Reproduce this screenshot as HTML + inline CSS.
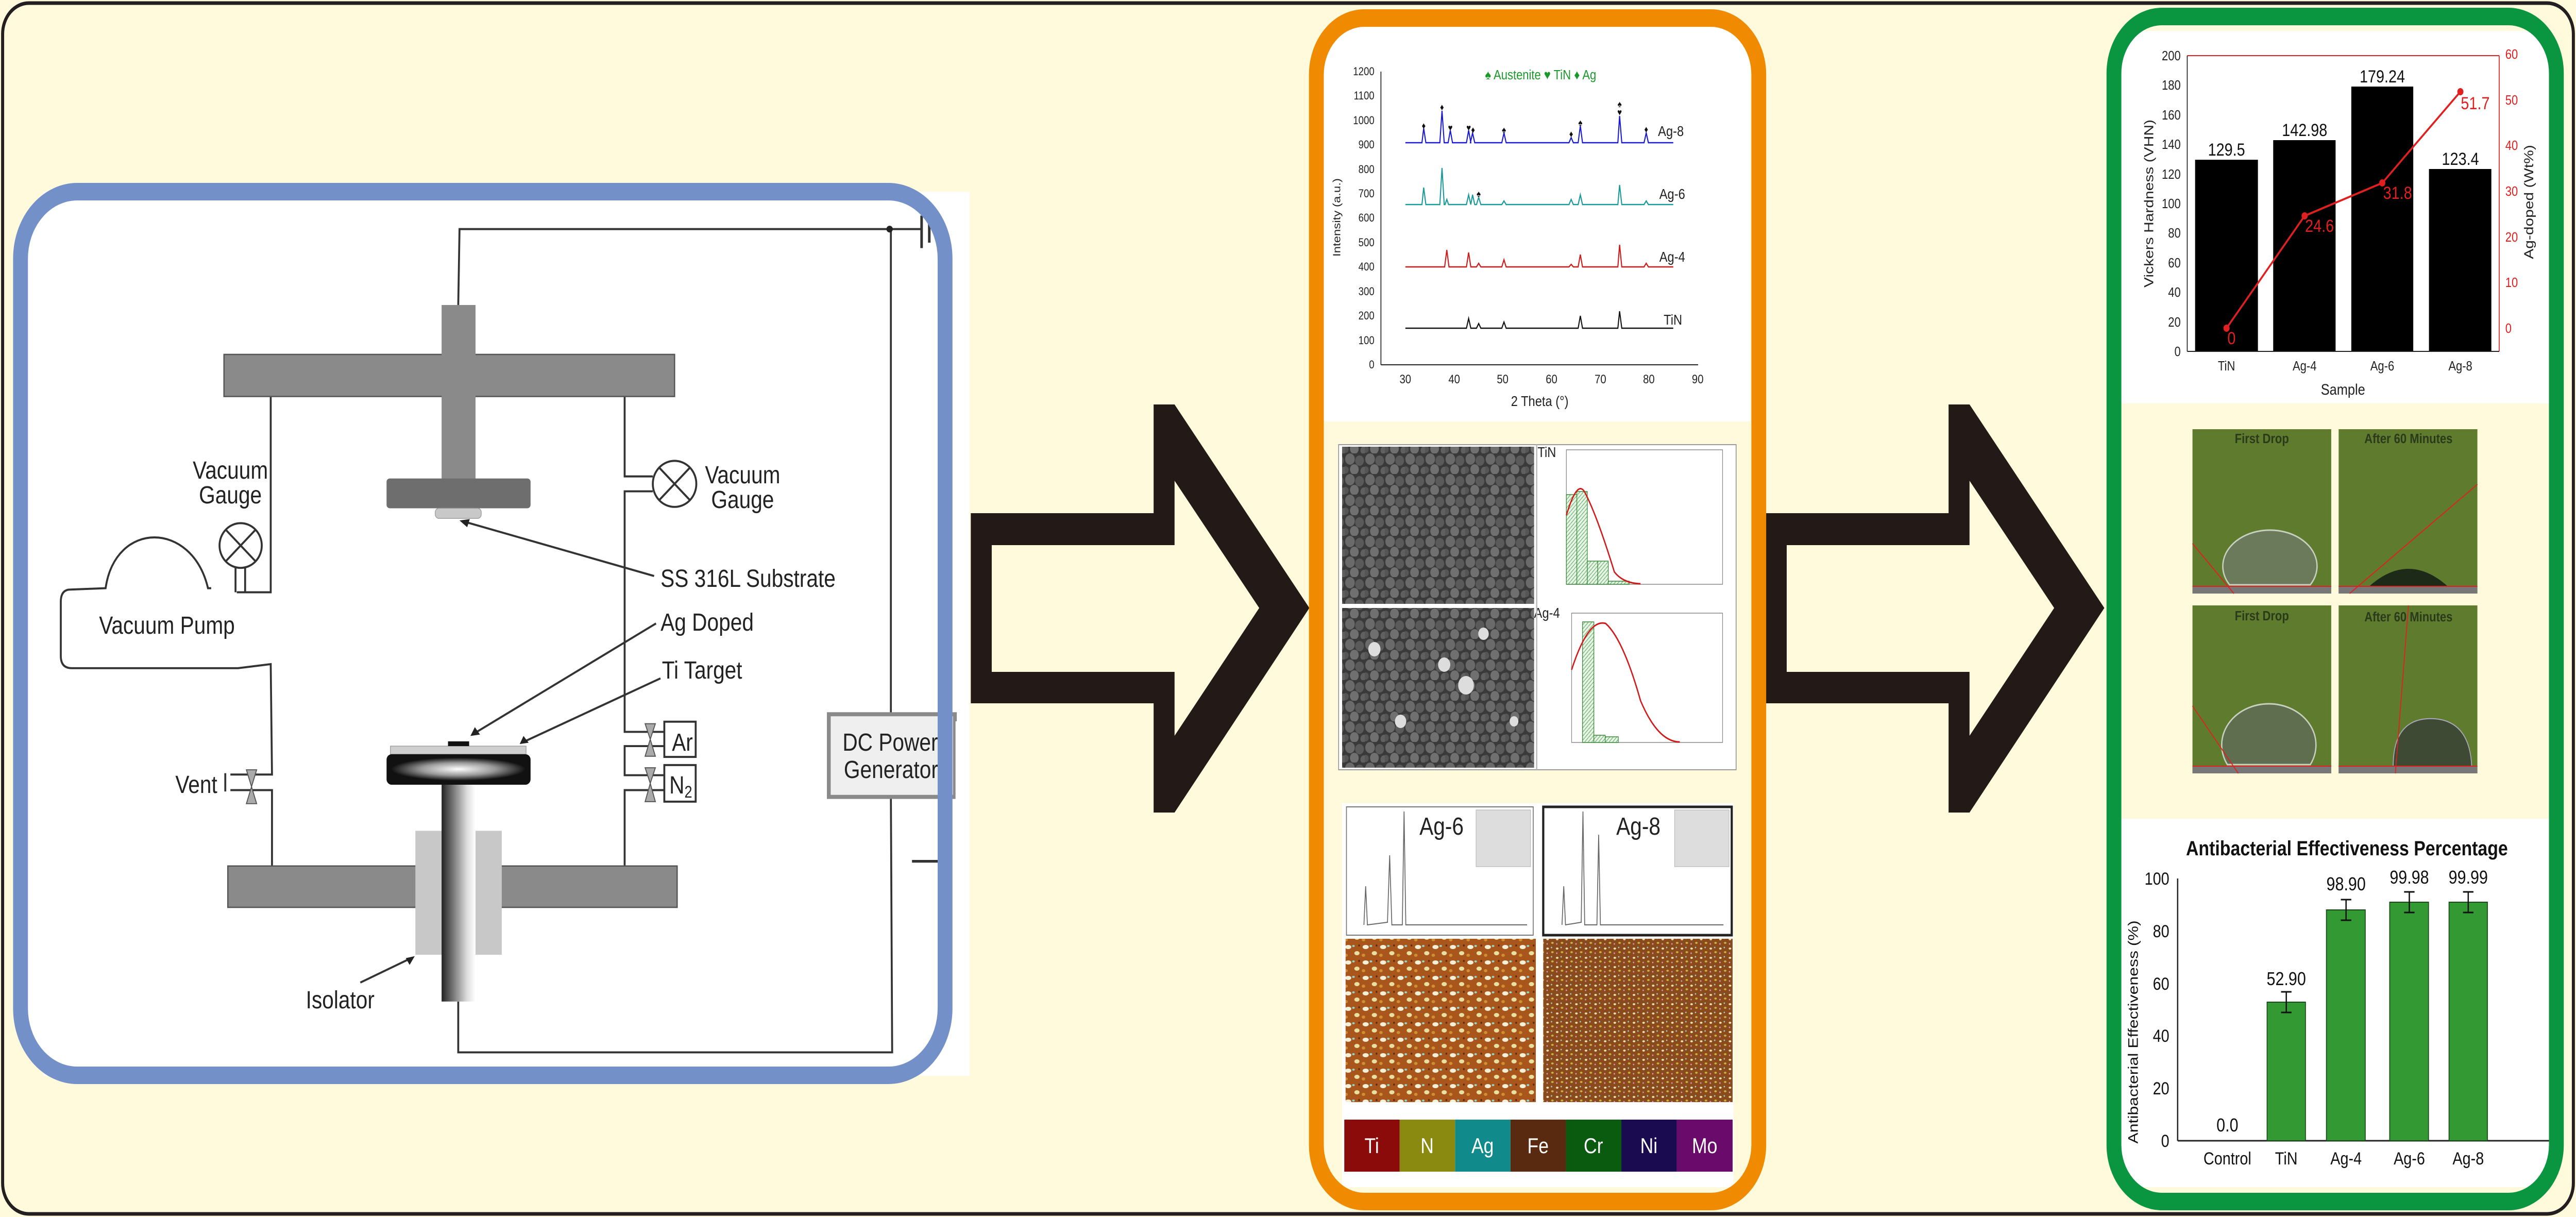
<!DOCTYPE html>
<html><head><meta charset="utf-8"><style>
html,body{margin:0;padding:0;background:#fffadc;width:100%;height:100%;overflow:hidden;}
svg.main{display:block;width:100vw;height:100vh;}
text{font-family:"Liberation Sans",sans-serif;}
</style></head><body>
<svg class="main" viewBox="0 0 5904 2362" preserveAspectRatio="none" xmlns="http://www.w3.org/2000/svg">
<defs>
<linearGradient id="shaft" x1="0" x2="1" y1="0" y2="0"><stop offset="0" stop-color="#222"/><stop offset="0.75" stop-color="#ddd"/><stop offset="1" stop-color="#fff"/></linearGradient>
<radialGradient id="disk" cx="0.5" cy="0.5" r="0.5"><stop offset="0" stop-color="#fff"/><stop offset="0.55" stop-color="#999"/><stop offset="1" stop-color="#111"/></radialGradient>
<pattern id="sem" width="46" height="40" patternUnits="userSpaceOnUse"><rect width="46" height="40" fill="#3a3a3a"/><circle cx="12" cy="11" r="11" fill="#6a6a6a"/><circle cx="34" cy="14" r="10" fill="#5a5a5a"/><circle cx="22" cy="31" r="10" fill="#707070"/><circle cx="44" cy="34" r="8" fill="#606060"/><circle cx="2" cy="32" r="7" fill="#555"/></pattern>
<pattern id="map6" width="40" height="30" patternUnits="userSpaceOnUse"><rect width="40" height="30" fill="#a8561c"/><ellipse cx="10" cy="8" rx="7" ry="4" fill="#f4f0d8"/><ellipse cx="30" cy="20" rx="6" ry="4" fill="#e8e0a0"/><ellipse cx="22" cy="6" rx="3" ry="2" fill="#8fd8d0"/><ellipse cx="5" cy="24" rx="4" ry="3" fill="#d09030"/><circle cx="35" cy="5" r="2" fill="#5a2a10"/></pattern>
<pattern id="map8" width="22" height="18" patternUnits="userSpaceOnUse"><rect width="22" height="18" fill="#8a4a1c"/><ellipse cx="5" cy="5" rx="3" ry="2" fill="#e8e0b0"/><ellipse cx="16" cy="12" rx="3" ry="2" fill="#c8b040"/><circle cx="14" cy="3" r="1.5" fill="#9fd8d0"/><circle cx="4" cy="14" r="1.5" fill="#d8a0d0"/></pattern>
<pattern id="hatch" width="8" height="8" patternUnits="userSpaceOnUse"><rect width="8" height="8" fill="#e6f4e6"/><path d="M0 8 L8 0" stroke="#4a9a4a" stroke-width="1"/></pattern>
</defs>

<rect x="6" y="6" width="5892" height="2350" rx="60" fill="#fffadc" stroke="#231f20" stroke-width="7"/>

<rect x="47" y="372" width="2119" height="1715" rx="130" fill="#fff"/>
<rect x="100" y="372" width="2122" height="1716" fill="#fff"/>
<svg x="0" y="300" width="2300" height="2062" viewBox="0 0 1568 1568" preserveAspectRatio="none" overflow="hidden">
 <g fill="none" stroke="#333" stroke-width="3">
  <polyline points="716,222 718,110 1440,110"/>
  <line x1="1440" y1="90" x2="1440" y2="138" stroke-width="4"/>
  <line x1="1452" y1="98" x2="1452" y2="130" stroke-width="4"/>
  <polyline points="1392,110 1392,826"/>
  <polyline points="1392,948 1394,1325 716,1325 716,1250"/>
  <line x1="1425" y1="1043" x2="1468" y2="1043" stroke-width="4"/>
  <polyline points="423,357 423,646 370,646"/>
  <path d="M330,640 L325,640 C300,540 180,540 165,640 L110,642 Q95,642 95,660 L95,740 Q95,758 112,758 L372,758 L423,752 L425,915 L360,915"/>
  <polyline points="360,938 425,938 425,1050"/>
  <polyline points="352,913 352,940"/>
  <circle cx="376" cy="577" r="33"/>
  <line x1="353" y1="554" x2="399" y2="600"/><line x1="399" y1="554" x2="353" y2="600"/>
  <line x1="368" y1="610" x2="368" y2="646"/><line x1="383" y1="610" x2="383" y2="646"/>
  <polyline points="976,357 976,475 1020,475"/>
  <polyline points="1020,497 976,497 976,852 1038,852"/>
  <polyline points="1038,873 976,873 976,916 1038,916"/>
  <polyline points="1038,938 976,938 976,1050"/>
  <circle cx="1054" cy="486" r="34"/>
  <line x1="1030" y1="462" x2="1078" y2="510"/><line x1="1078" y1="462" x2="1030" y2="510"/>
  <rect x="1038" y="837" width="49" height="52"/>
  <rect x="1038" y="901" width="49" height="54"/>
  <line x1="1022" y1="622" x2="730" y2="543"/>
  <line x1="1025" y1="692" x2="745" y2="852"/>
  <line x1="1032" y1="773" x2="820" y2="866"/>
  <line x1="563" y1="1222" x2="640" y2="1187"/>
 </g>
 <g fill="#222">
  <polygon points="718,540 734,538 730,550"/>
  <polygon points="735,858 742,845 750,856"/>
  <polygon points="812,870 818,858 826,868"/>
  <polygon points="648,1183 640,1196 634,1186"/>
  <circle cx="1390" cy="110" r="5"/>
 </g>
 <g fill="#aaa" stroke="#555" stroke-width="1.5">
  <polygon points="385,908 401,908 393,933"/><polygon points="385,958 401,958 393,933"/>
  <polygon points="1008,840 1024,840 1016,863"/><polygon points="1008,888 1024,888 1016,863"/>
  <polygon points="1008,905 1024,905 1016,928"/><polygon points="1008,955 1024,955 1016,928"/>
 </g>
 <rect x="350" y="295" width="704" height="62" fill="#8a8a8a" stroke="#555" stroke-width="2"/>
 <rect x="690" y="222" width="53" height="258" fill="#8a8a8a"/>
 <rect x="604" y="478" width="225" height="44" rx="5" fill="#6e6e6e"/>
 <rect x="680" y="522" width="72" height="15" rx="6" fill="#c8c8c8" stroke="#999" stroke-width="1"/>
 <rect x="356" y="1050" width="702" height="61" fill="#8a8a8a" stroke="#555" stroke-width="2"/>
 <rect x="649" y="998" width="135" height="183" fill="#c8c8c8"/>
 <rect x="690" y="928" width="53" height="322" fill="url(#shaft)"/>
 <rect x="610" y="873" width="212" height="12" fill="#cfcfcf" stroke="#999" stroke-width="1"/>
 <rect x="700" y="866" width="33" height="7" fill="#111"/>
 <rect x="604" y="885" width="225" height="45" rx="8" fill="#111"/>
 <ellipse cx="716" cy="907" rx="105" ry="17" fill="url(#disk)"/>
 <rect x="1295" y="826" width="197" height="122" fill="#efefef" stroke="#8a8a8a" stroke-width="6"/>
</svg>
<g font-size="48" fill="#222">
 <text x="528" y="929" text-anchor="middle">Vacuum</text>
 <text x="528" y="977" text-anchor="middle">Gauge</text>
 <text x="1702" y="938" text-anchor="middle">Vacuum</text>
 <text x="1702" y="986" text-anchor="middle">Gauge</text>
 <text x="1514" y="1139">SS 316L Substrate</text>
 <text x="1514" y="1224">Ag Doped</text>
 <text x="1517" y="1317">Ti Target</text>
 <text x="227" y="1230">Vacuum Pump</text>
 <text x="402" y="1539">Vent</text>
 <text x="1540" y="1457">Ar</text>
 <text x="1534" y="1540">N<tspan font-size="32" dy="8">2</tspan></text>
 <text x="1931" y="1457">DC Power</text>
 <text x="1934" y="1510">Generator</text>
 <text x="701" y="1957">Isolator</text>
</g>
<rect x="2190" y="1400" width="32" height="160" fill="#fff"/>
<rect x="47" y="372" width="2119" height="1715" rx="130" fill="none" stroke="#7490c8" stroke-width="34"/>

<path fill-rule="evenodd" fill="#231a17" d="M2225,996 L2644,996 L2644,785 L2692,785 L3001,1180 L2692,1577 L2644,1577 L2644,1365 L2225,1365 Z M2273,1058 L2692,1058 L2692,933 L2886,1180 L2692,1428 L2692,1304 L2273,1304 Z"/>
<path fill-rule="evenodd" fill="#231a17" transform="translate(1822,0)" d="M2225,996 L2644,996 L2644,785 L2692,785 L3001,1180 L2692,1577 L2644,1577 L2644,1365 L2225,1365 Z M2273,1058 L2692,1058 L2692,933 L2886,1180 L2692,1428 L2692,1304 L2273,1304 Z"/>

<rect x="3017" y="35" width="1014" height="2297" rx="110" fill="#fffadc"/>
<rect x="3034" y="53" width="978" height="765" fill="#fff"/>
<g stroke="#222" stroke-width="2" fill="none">
 <line x1="3165" y1="139" x2="3165" y2="708"/>
 <line x1="3165" y1="708" x2="3892" y2="708"/>
</g>
<g font-size="22" fill="#222" text-anchor="end">
 <text x="3150" y="715">0</text><text x="3150" y="668">100</text><text x="3150" y="620">200</text><text x="3150" y="573">300</text><text x="3150" y="525">400</text><text x="3150" y="478">500</text><text x="3150" y="430">600</text><text x="3150" y="383">700</text><text x="3150" y="336">800</text><text x="3150" y="288">900</text><text x="3150" y="241">1000</text><text x="3150" y="193">1100</text><text x="3150" y="146">1200</text>
</g>
<g font-size="24" fill="#222" text-anchor="middle">
 <text x="3221" y="744">30</text><text x="3333" y="744">40</text><text x="3444" y="744">50</text><text x="3556" y="744">60</text><text x="3668" y="744">70</text><text x="3779" y="744">80</text><text x="3891" y="744">90</text>
 <text x="3529" y="788" font-size="28">2 Theta (°)</text>
 <text transform="translate(3072,422) rotate(-90)" font-size="24">Intensity (a.u.)</text>
 <text x="3531" y="154" font-size="26" fill="#1a9a2a">♠ Austenite  ♥ TiN  ♦ Ag</text>
</g>
<g fill="none" stroke-width="2.5">
 <path stroke="#1a1ad0" d="M3221,277 L3259,277 L3263,249 L3268,277 L3300,277 L3305,215 L3310,277 L3319,277 L3324,253 L3329,277 L3361,277 L3366,253 L3371,277 L3370,277 L3375,258 L3380,277 L3442,277 L3447,258 L3452,277 L3596,277 L3601,267 L3606,277 L3617,277 L3622,244 L3627,277 L3708,277 L3712,225 L3717,277 L3768,277 L3773,258 L3778,277 L3835,277"/>
 <path stroke="#1a9a9a" d="M3221,397 L3259,397 L3263,364 L3268,397 L3300,397 L3305,326 L3310,397 L3312,397 L3316,387 L3320,397 L3361,397 L3366,378 L3371,397 L3375,378 L3380,397 L3384,397 L3389,383 L3394,397 L3442,397 L3447,390 L3452,397 L3596,397 L3601,387 L3606,397 L3617,397 L3622,378 L3627,397 L3708,397 L3712,359 L3717,397 L3768,397 L3773,390 L3778,397 L3835,397"/>
 <path stroke="#d01a1a" d="M3221,518 L3311,518 L3316,485 L3321,518 L3361,518 L3366,490 L3371,518 L3384,518 L3389,511 L3394,518 L3442,518 L3447,504 L3452,518 L3596,518 L3601,513 L3606,518 L3617,518 L3622,494 L3627,518 L3708,518 L3712,475 L3717,518 L3768,518 L3773,511 L3778,518 L3835,518"/>
 <path stroke="#111" d="M3221,637 L3361,637 L3366,618 L3371,637 L3384,637 L3389,628 L3394,637 L3442,637 L3447,625 L3452,637 L3617,637 L3622,613 L3627,637 L3708,637 L3712,604 L3717,637 L3835,637"/>
</g>
<g font-size="18" fill="#111" text-anchor="middle">
 <text x="3263" y="250">♦</text><text x="3305" y="214">♦</text><text x="3324" y="254">♥</text><text x="3366" y="254">♥</text><text x="3376" y="258">♦</text><text x="3447" y="258">♠</text><text x="3601" y="266">♦</text><text x="3622" y="244">♠</text><text x="3712" y="224">♥</text><text x="3712" y="208">♠</text><text x="3773" y="257">♦</text><text x="3389" y="382">♠</text>
</g>
<g font-size="28" fill="#222">
 <text x="3800" y="264">Ag-8</text><text x="3803" y="386">Ag-6</text><text x="3803" y="508">Ag-4</text><text x="3813" y="630">TiN</text>
</g>
<rect x="3068" y="863" width="911" height="631" fill="#fff" stroke="#999" stroke-width="2"/>
<rect x="3076" y="867" width="440" height="305" fill="url(#sem)"/>
<rect x="3076" y="1180" width="440" height="310" fill="url(#sem)"/>
<g fill="#ddd"><circle cx="3150" cy="1260" r="14"/><circle cx="3310" cy="1290" r="14"/><circle cx="3360" cy="1330" r="18"/><circle cx="3210" cy="1400" r="13"/><circle cx="3470" cy="1400" r="10"/><circle cx="3400" cy="1230" r="12"/></g>
<g font-size="28" fill="#222"><text x="3524" y="887">TiN</text><text x="3516" y="1199">Ag-4</text></g>
<line x1="3522" y1="863" x2="3522" y2="1494" stroke="#bbb" stroke-width="3"/>
<rect x="3590" y="873" width="358" height="261" fill="#fff" stroke="#888" stroke-width="1.5"/>
<g fill="url(#hatch)" stroke="#3a8a3a" stroke-width="1.5"><rect x="3590" y="960" width="24" height="174"/><rect x="3614" y="954" width="24" height="180"/><rect x="3638" y="1089" width="24" height="45"/><rect x="3662" y="1089" width="24" height="45"/><rect x="3686" y="1128" width="48" height="6"/></g>
<path d="M3590,1000 Q3615,930 3632,955 Q3660,1000 3700,1110 Q3720,1132 3760,1133" fill="none" stroke="#d01a1a" stroke-width="3"/>
<rect x="3602" y="1190" width="346" height="251" fill="#fff" stroke="#888" stroke-width="1.5"/>
<g fill="url(#hatch)" stroke="#3a8a3a" stroke-width="1.5"><rect x="3627" y="1207" width="26" height="234"/><rect x="3653" y="1427" width="26" height="14"/><rect x="3679" y="1430" width="30" height="11"/></g>
<path d="M3602,1300 Q3640,1200 3680,1210 Q3720,1240 3760,1360 Q3800,1440 3850,1440" fill="none" stroke="#d01a1a" stroke-width="3"/>
<rect x="3076" y="1559" width="897" height="745" fill="#fff"/>
<rect x="3086" y="1566" width="428" height="249" fill="#fff" stroke="#777" stroke-width="2"/>
<rect x="3537" y="1566" width="432" height="249" fill="#fff" stroke="#222" stroke-width="5"/>
<path d="M3126,1795 L3130,1720 L3134,1795 L3180,1790 L3185,1660 L3190,1795 L3214,1795 L3218,1575 L3222,1795 L3500,1795" fill="none" stroke="#666" stroke-width="2"/>
<path d="M3580,1795 L3584,1720 L3588,1795 L3624,1790 L3628,1575 L3632,1795 L3660,1795 L3664,1620 L3668,1795 L3950,1795" fill="none" stroke="#666" stroke-width="2"/>
<rect x="3383" y="1572" width="125" height="110" fill="#ddd" stroke="#aaa"/>
<rect x="3838" y="1572" width="125" height="110" fill="#ddd" stroke="#aaa"/>
<g font-size="48" fill="#222" text-anchor="middle"><text x="3304" y="1620">Ag-6</text><text x="3755" y="1620">Ag-8</text></g>
<rect x="3084" y="1822" width="436" height="317" fill="url(#map6)"/>
<rect x="3537" y="1822" width="434" height="317" fill="url(#map8)"/>
<g><rect x="3081" y="2173" width="127" height="101" fill="#8b0a0a"/><rect x="3208" y="2173" width="127" height="101" fill="#8a8a10"/><rect x="3335" y="2173" width="127" height="101" fill="#108a8a"/><rect x="3462" y="2173" width="127" height="101" fill="#5a2a10"/><rect x="3589" y="2173" width="127" height="101" fill="#0a5a10"/><rect x="3716" y="2173" width="127" height="101" fill="#1a0a50"/><rect x="3843" y="2173" width="128" height="101" fill="#6a0a6a"/></g>
<g font-size="42" fill="#fff" text-anchor="middle"><text x="3144" y="2238">Ti</text><text x="3271" y="2238">N</text><text x="3398" y="2238">Ag</text><text x="3525" y="2238">Fe</text><text x="3652" y="2238">Cr</text><text x="3779" y="2238">Ni</text><text x="3907" y="2238">Mo</text></g>
<rect x="3017" y="35" width="1014" height="2297" rx="110" fill="none" stroke="#f08a00" stroke-width="34"/>

<rect x="4845" y="32" width="1014" height="2300" rx="110" fill="#fffadc"/>
<rect x="4862" y="60" width="980" height="723" fill="#fff"/>
<g fill="#000"><rect x="5031" y="310" width="144" height="372"/><rect x="5210" y="272" width="143" height="410"/><rect x="5389" y="168" width="142" height="514"/><rect x="5567" y="328" width="143" height="354"/></g>
<line x1="5013" y1="108" x2="5728" y2="108" stroke="#e02020" stroke-width="2"/>
<line x1="5728" y1="108" x2="5728" y2="682" stroke="#e02020" stroke-width="2"/>
<line x1="5013" y1="108" x2="5013" y2="682" stroke="#222" stroke-width="2"/>
<line x1="5013" y1="682" x2="5728" y2="682" stroke="#222" stroke-width="2"/>
<polyline points="5103,637 5282,419 5460,355 5639,178" fill="none" stroke="#e02020" stroke-width="4"/>
<g fill="#e02020"><circle cx="5103" cy="637" r="7"/><circle cx="5282" cy="419" r="7"/><circle cx="5460" cy="355" r="7"/><circle cx="5639" cy="178" r="7"/></g>
<g font-size="34" fill="#111" text-anchor="middle"><text x="5103" y="302">129.5</text><text x="5282" y="264">142.98</text><text x="5460" y="160">179.24</text><text x="5639" y="320">123.4</text></g>
<g font-size="34" fill="#e02020"><text x="5105" y="668">0</text><text x="5283" y="450">24.6</text><text x="5462" y="386">31.8</text><text x="5640" y="212">51.7</text></g>
<g font-size="26" fill="#222" text-anchor="end"><text x="4998" y="691">0</text><text x="4998" y="634">20</text><text x="4998" y="576">40</text><text x="4998" y="519">60</text><text x="4998" y="461">80</text><text x="4998" y="404">100</text><text x="4998" y="347">120</text><text x="4998" y="289">140</text><text x="4998" y="232">160</text><text x="4998" y="174">180</text><text x="4998" y="117">200</text></g>
<g font-size="26" fill="#e02020"><text x="5742" y="646">0</text><text x="5742" y="557">10</text><text x="5742" y="469">20</text><text x="5742" y="380">30</text><text x="5742" y="291">40</text><text x="5742" y="203">50</text><text x="5742" y="114">60</text></g>
<g font-size="26" fill="#222" text-anchor="middle"><text x="5103" y="719">TiN</text><text x="5282" y="719">Ag-4</text><text x="5460" y="719">Ag-6</text><text x="5639" y="719">Ag-8</text>
<text x="5370" y="766" font-size="30">Sample</text>
<text transform="translate(4935,395) rotate(-90)" font-size="30">Vickers Hardness (VHN)</text>
<text transform="translate(5806,392) rotate(-90)" font-size="30">Ag-doped (Wt%)</text></g>
<g>
<rect x="5025" y="833" width="318" height="319" fill="#5f7b2e"/><rect x="5360" y="833" width="318" height="319" fill="#5f7b2e"/>
<rect x="5025" y="1175" width="318" height="326" fill="#5f7b2e"/><rect x="5360" y="1175" width="318" height="326" fill="#5f7b2e"/>
<rect x="5025" y="1138" width="318" height="14" fill="#777"/><rect x="5360" y="1138" width="318" height="14" fill="#777"/>
<rect x="5025" y="1487" width="318" height="14" fill="#777"/><rect x="5360" y="1487" width="318" height="14" fill="#777"/>
<path d="M5110,1135 A108,70 0 1 1 5295,1135 Z" fill="#6a7a5a" stroke="#c8d0c0" stroke-width="3"/>
<path d="M5430,1138 Q5520,1070 5610,1138 Z" fill="#1e2a18"/>
<path d="M5105,1484 A108,80 0 1 1 5295,1484 Z" fill="#5e6e4e" stroke="#c8d0c0" stroke-width="3"/>
<path d="M5485,1487 Q5485,1390 5580,1395 Q5660,1400 5665,1487 Z" fill="#3e4a34" stroke="#aab" stroke-width="2"/>
<g stroke="#e02020" stroke-width="2" fill="none"><line x1="5025" y1="1138" x2="5343" y2="1138"/><line x1="5360" y1="1138" x2="5678" y2="1138"/><line x1="5025" y1="1487" x2="5343" y2="1487"/><line x1="5360" y1="1487" x2="5678" y2="1487"/><line x1="5385" y1="1152" x2="5678" y2="940"/><line x1="5490" y1="1501" x2="5520" y2="1175"/><line x1="5025" y1="1055" x2="5120" y2="1152"/><line x1="5025" y1="1370" x2="5130" y2="1501"/></g>
<g font-size="26" font-weight="bold" fill="#2a3a1a" text-anchor="middle"><text x="5184" y="860">First Drop</text><text x="5520" y="860">After 60 Minutes</text><text x="5184" y="1204">First Drop</text><text x="5520" y="1206">After 60 Minutes</text></g>
</g>
<rect x="4862" y="1589" width="980" height="715" fill="#fff"/>
<text x="5379" y="1660" font-size="40" font-weight="bold" fill="#111" text-anchor="middle">Antibacterial Effectiveness Percentage</text>
<line x1="4991" y1="1705" x2="4991" y2="2214" stroke="#222" stroke-width="3"/>
<line x1="4991" y1="2214" x2="5842" y2="2214" stroke="#222" stroke-width="3"/>
<g fill="#339933" stroke="#1a4a1a" stroke-width="2"><rect x="5196" y="1945" width="88" height="269"/><rect x="5332" y="1766" width="89" height="448"/><rect x="5477" y="1751" width="89" height="463"/><rect x="5613" y="1751" width="88" height="463"/></g>
<g stroke="#111" stroke-width="3" fill="none"><path d="M5228,1925 H5252 M5240,1925 V1965 M5228,1965 H5252"/><path d="M5365,1746 H5389 M5377,1746 V1786 M5365,1786 H5389"/><path d="M5510,1731 H5534 M5522,1731 V1771 M5510,1771 H5534"/><path d="M5645,1731 H5669 M5657,1731 V1771 M5645,1771 H5669"/></g>
<g font-size="36" fill="#111" text-anchor="middle"><text x="5105" y="2196">0.0</text><text x="5240" y="1912">52.90</text><text x="5377" y="1728">98.90</text><text x="5522" y="1715">99.98</text><text x="5657" y="1715">99.99</text></g>
<g font-size="34" fill="#111" text-anchor="middle"><text x="5105" y="2260">Control</text><text x="5240" y="2260">TiN</text><text x="5377" y="2260">Ag-4</text><text x="5522" y="2260">Ag-6</text><text x="5657" y="2260">Ag-8</text></g>
<g font-size="34" fill="#111" text-anchor="end"><text x="4972" y="2226">0</text><text x="4972" y="2124">20</text><text x="4972" y="2022">40</text><text x="4972" y="1921">60</text><text x="4972" y="1819">80</text><text x="4972" y="1717">100</text></g>
<text transform="translate(4900,2003) rotate(-90)" font-size="32" fill="#111" text-anchor="middle">Antibacterial Effectiveness (%)</text>
<rect x="4845" y="32" width="1014" height="2300" rx="110" fill="none" stroke="#0a9640" stroke-width="34"/>
</svg>
</body></html>
